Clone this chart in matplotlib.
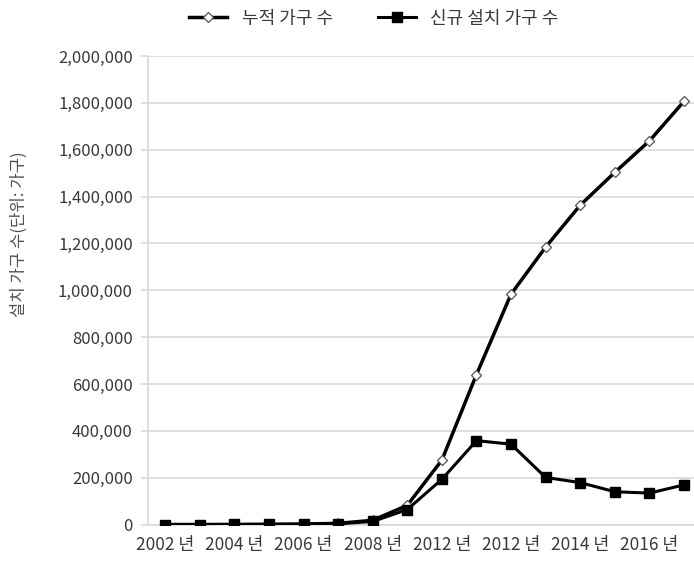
import matplotlib
matplotlib.use("Agg")
import matplotlib.pyplot as plt
from matplotlib.ticker import FuncFormatter

plt.rcParams["font.family"] = ["Noto Sans CJK KR", "DejaVu Sans"]

# yearly installs, 2002-2017
years = list(range(2002, 2018))
cumulative = [0, 0, 200, 800, 2000, 5000, 18000, 82000, 275000, 640000,
              983000, 1184000, 1363000, 1503000, 1637000, 1806000]
new_installs = [0, 0, 200, 600, 1200, 3000, 13000, 64000, 193000, 358000,
                343000, 201000, 179000, 140000, 134000, 169000]
tick_labels = ["2002 년", "2004 년", "2006 년", "2008 년",
               "2012 년", "2012 년", "2014 년", "2016 년"]

TEXT = "#3a3a3a"
GRID = "#d9d9d9"

fig = plt.figure(figsize=(6.94, 5.64), dpi=100)
ax = fig.add_axes([0.2133, 0.0700, 0.797, 0.8307])

x = list(range(len(years)))
ax.plot(x, cumulative, color="black", lw=2.5, marker="D", ms=5.5,
        mfc="white", mec="#555555", mew=0.9, label="누적 가구 수", zorder=3)
ax.plot(x, new_installs, color="black", lw=2.2, marker="s", ms=7,
        mfc="black", mec="black", label="신규 설치 가구 수", zorder=4)

ax.set_xlim(-0.5, len(years) - 0.5)
ax.set_ylim(0, 2000000)
ax.set_yticks(range(0, 2000001, 200000))
ax.yaxis.set_major_formatter(FuncFormatter(lambda v, p: f"{int(v):,}"))
ax.set_xticks(x[::2])
ax.set_xticklabels(tick_labels)

ax.grid(axis="y", color=GRID, lw=1.2)
ax.set_axisbelow(True)
for side in ["top", "right"]:
    ax.spines[side].set_visible(False)
ax.spines["left"].set_color(GRID)
ax.spines["bottom"].set_color(GRID)
ax.spines["left"].set_linewidth(1.2)
ax.spines["bottom"].set_linewidth(1.2)

ax.tick_params(axis="y", colors=GRID, labelcolor=TEXT, labelsize=12,
               length=5, width=1.2, pad=6)
ax.tick_params(axis="x", length=0, labelcolor=TEXT, labelsize=12.5, pad=8)

fig.text(0.028, 0.585, "설치 가구 수(단위: 가구)", rotation=90,
         ha="center", va="center", fontsize=12, color="#505050")

fig.legend(loc="center", bbox_to_anchor=(0.539, 0.967), ncol=2,
           frameon=False, fontsize=13, handlelength=2.1, handletextpad=0.8,
           columnspacing=2.5, labelcolor=TEXT)

fig.savefig("out.png", dpi=100)
